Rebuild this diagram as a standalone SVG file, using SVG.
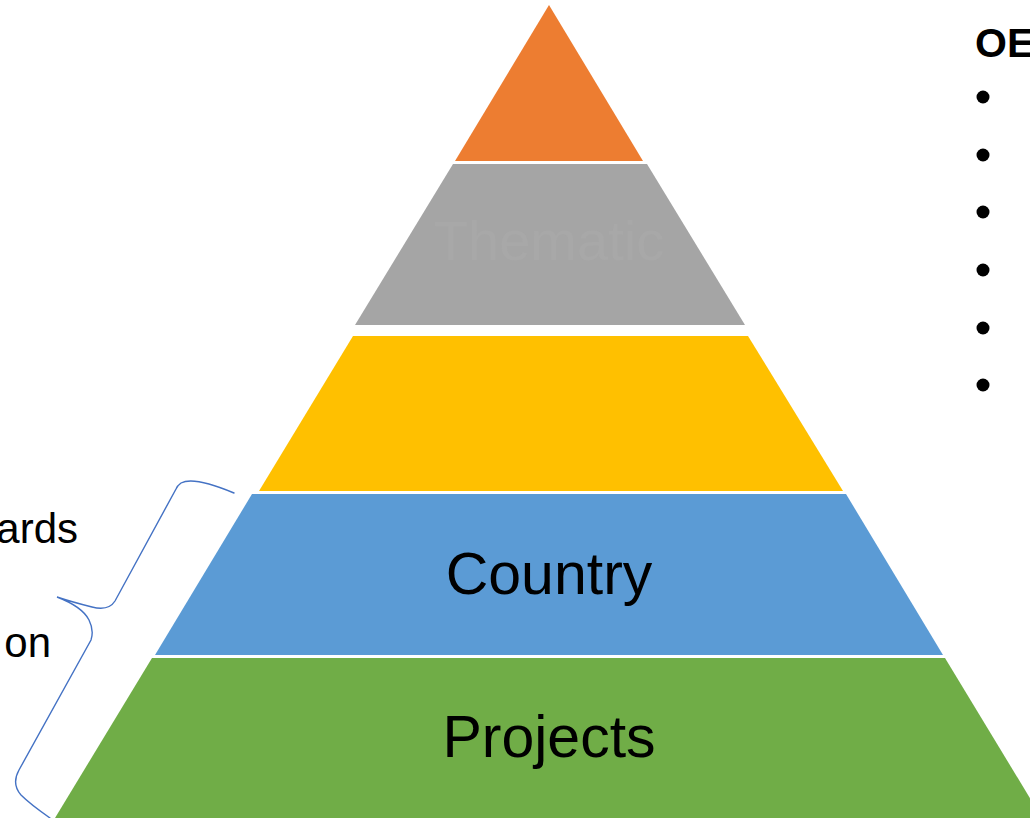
<svg xmlns="http://www.w3.org/2000/svg" width="1030" height="818" viewBox="0 0 1030 818">
<style>
.lbl{font-family:"Liberation Sans",Arial,sans-serif;fill:#000}
.big{font-size:59px;text-anchor:middle}
.side{font-size:42px}
.brace{fill:none;stroke:#4472C4;stroke-width:1.4;stroke-linecap:round}
</style>
<rect width="1030" height="818" fill="#fff"/>
<g id="layer-top"><polygon points="549,5 643,161 455,161" fill="#ED7D31"/></g>
<g id="layer-thematic"><polygon points="453,164 647,164 745,325 355,325" fill="#A5A5A5"/>
<text class="lbl big" x="549" y="260" style="fill:#A8A8A8;font-size:56px">Thematic</text></g>
<g id="layer-yellow"><polygon points="353,336 748,336 843,491 259,491" fill="#FFC000"/></g>
<g id="layer-country"><polygon points="252,494 846,494 943,655 155,655" fill="#5B9BD5"/>
<text class="lbl big" x="549" y="594">Country</text></g>
<g id="layer-projects"><polygon points="152,658 945,658 1042,818 55,818" fill="#70AD47"/>
<text class="lbl big" x="549" y="757">Projects</text></g>
<g id="connectors">
<path class="brace" d="M234,493 C215,485 192,477 181,483 Q177,486 176,489 L115,601 C110,609 100,609 92,607 C80,604 66,600 57,597 C70,602 84,610 89,620 C93,628 93,634 91,640 L19,770 C14,779 14,787 21,795 C30,804 40,811 50,818"/>
</g>
<g id="left-labels">
<text class="lbl side" x="78" y="543" text-anchor="end">ards</text>
<text class="lbl side" x="51" y="657" text-anchor="end">on</text>
</g>
<g id="legend">
<text class="lbl" x="975" y="57" style="font-size:41px;font-weight:bold">OE</text>
<circle cx="983" cy="97" r="6.5"/>
<circle cx="983" cy="155" r="6.5"/>
<circle cx="983" cy="212" r="6.5"/>
<circle cx="983" cy="270" r="6.5"/>
<circle cx="983" cy="328" r="6.5"/>
<circle cx="983" cy="385" r="6.5"/>
</g>
</svg>
